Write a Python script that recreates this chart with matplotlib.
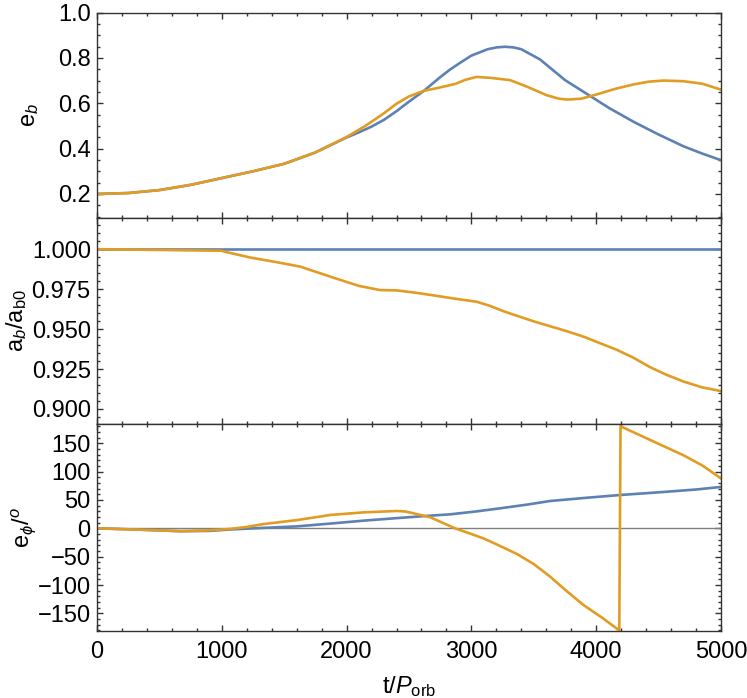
import matplotlib
matplotlib.use("Agg")
import matplotlib.pyplot as plt
from matplotlib.ticker import MultipleLocator

plt.rcParams['font.family'] = ['Liberation Sans', 'DejaVu Sans']
plt.rcParams['mathtext.fontset'] = 'custom'
plt.rcParams['mathtext.rm'] = 'Liberation Sans'
plt.rcParams['mathtext.it'] = 'Liberation Sans:italic'
plt.rcParams['mathtext.bf'] = 'Liberation Sans:bold'

BLUE = '#5e81b5'
ORANGE = '#e19c24'

# eccentricity e_b
t_eb_blue = [0, 250, 500, 750, 1000, 1250, 1500, 1750, 2000, 2100, 2200, 2300, 2400, 2500,
             2620, 2750, 2830, 2920, 3000, 3130, 3200, 3270, 3340, 3400, 3550, 3750, 3960,
             4100, 4300, 4500, 4700, 4850, 5000]
eb_blue = [0.200, 0.204, 0.217, 0.240, 0.270, 0.300, 0.333, 0.383, 0.449, 0.472, 0.497,
           0.527, 0.565, 0.607, 0.655, 0.715, 0.749, 0.782, 0.810, 0.838, 0.846, 0.849,
           0.846, 0.838, 0.793, 0.702, 0.629, 0.580, 0.518, 0.462, 0.410, 0.378, 0.349]
t_eb_orange = [0, 250, 500, 750, 1000, 1250, 1500, 1750, 2000, 2150, 2300, 2400, 2500,
               2620, 2720, 2870, 2950, 3040, 3150, 3310, 3450, 3600, 3700, 3770, 3880,
               4000, 4150, 4300, 4420, 4540, 4700, 4850, 5000]
eb_orange = [0.200, 0.204, 0.217, 0.240, 0.270, 0.300, 0.333, 0.383, 0.451, 0.500, 0.556,
             0.598, 0.630, 0.655, 0.666, 0.685, 0.703, 0.716, 0.712, 0.702, 0.672, 0.636,
             0.620, 0.616, 0.620, 0.638, 0.663, 0.683, 0.695, 0.700, 0.697, 0.686, 0.660]

# semi-major axis a_b / a_b0
t_ab_blue = [0, 5000]
ab_blue = [1.0, 1.0]
t_ab_orange = [0, 500, 1000, 1030, 1226, 1430, 1627, 1893, 2100, 2268, 2400, 2550, 2695,
               2870, 3042, 3150, 3256, 3496, 3763, 3900, 4163, 4300, 4431, 4560, 4698,
               4850, 5000]
ab_orange = [1.0, 0.9995, 0.9990, 0.9983, 0.9948, 0.9920, 0.9891, 0.9822, 0.9770, 0.9744,
             0.9742, 0.9728, 0.9711, 0.9690, 0.9671, 0.9645, 0.9612, 0.9549, 0.9487,
             0.9452, 0.9371, 0.9320, 0.9262, 0.9215, 0.9172, 0.9135, 0.9112]

# e_phi in degrees
t_ph_blue = [0, 300, 668, 900, 1068, 1300, 1603, 1900, 2137, 2400, 2671, 2829, 3045, 3229,
             3450, 3630, 3900, 4191, 4500, 4800, 5000]
ph_blue = [0, -2, -5, -4.5, -2, 0.5, 3.5, 9, 13.6, 18, 22.4, 24.7, 30, 35.3, 42, 48.2,
           53.5, 58.8, 63.5, 68.5, 73]
t_ph_orange = [0, 300, 668, 900, 1068, 1200, 1336, 1603, 1870, 2137, 2404, 2470, 2537,
               2671, 2870, 3000, 3100, 3200, 3363, 3500, 3630, 3760, 3897, 4050, 4185,
               4195, 4431, 4698, 4850, 5000]
ph_orange = [0, -2, -5, -3.5, -1, 2.5, 7.6, 14.6, 23.6, 28.2, 30.6, 29.8, 26.5, 19.4, 0,
             -10, -18, -28, -45, -63, -85, -110, -135, -158, -180, 180, 156, 129, 111, 88]

fig = plt.figure(figsize=(7.47, 6.98), dpi=100)
left, width = 97 / 747, 624 / 747
ax1 = fig.add_axes([left, 1 - 218 / 698, width, 205.5 / 698])
ax2 = fig.add_axes([left, 1 - 424 / 698, width, 206 / 698])
ax3 = fig.add_axes([left, 1 - 631 / 698, width, 207 / 698])

lw = 1.9
ax1.plot(t_eb_blue, eb_blue, color=BLUE, lw=lw)
ax1.plot(t_eb_orange, eb_orange, color=ORANGE, lw=lw)
ax2.plot(t_ab_blue, ab_blue, color=BLUE, lw=lw)
ax2.plot(t_ab_orange, ab_orange, color=ORANGE, lw=lw)
ax3.axhline(0, color='#808080', lw=1.0)
ax3.plot(t_ph_blue, ph_blue, color=BLUE, lw=lw)
ax3.plot(t_ph_orange, ph_orange, color=ORANGE, lw=lw)

ax1.set_ylim(0.094, 1.0)
ax1.yaxis.set_minor_locator(MultipleLocator(0.05))
ax1.set_yticks([0.2, 0.4, 0.6, 0.8, 1.0])
ax1.set_yticklabels(['0.2', '0.4', '0.6', '0.8', '1.0'])

ax2.set_ylim(0.8906, 1.0195)
ax2.set_yticks([0.9, 0.925, 0.95, 0.975, 1.0])
ax2.set_yticklabels(['0.900', '0.925', '0.950', '0.975', '1.000'])
ax2.yaxis.set_minor_locator(MultipleLocator(0.005))

ax3.set_ylim(-181, 184)
ax3.set_yticks([-150, -100, -50, 0, 50, 100, 150])
ax3.yaxis.set_minor_locator(MultipleLocator(10))

fs = 17
for ax in (ax1, ax2, ax3):
    ax.set_xlim(0, 5000)
    ax.xaxis.set_major_locator(MultipleLocator(1000))
    ax.xaxis.set_minor_locator(MultipleLocator(200))
    ax.tick_params(which='both', direction='in', top=True, right=True,
                   width=1.0, labelsize=fs, pad=4.5, color='#333333')
    ax.tick_params(which='major', length=4.5)
    ax.tick_params(which='minor', length=2.5)
    for s in ax.spines.values():
        s.set_linewidth(1.0)
        s.set_color('#333333')
    if ax is not ax3:
        ax.tick_params(labelbottom=False)

ax3.tick_params(axis='x', pad=7)

ax1.set_ylabel(r'$\mathrm{e}_b$', fontsize=fs, labelpad=12)
ax2.set_ylabel(r'$\mathrm{a}_b/\mathrm{a}_{\mathrm{b0}}$', fontsize=fs, labelpad=2)
ax3.set_ylabel(r'$\mathrm{e}_\phi/^o$', fontsize=fs, labelpad=0)
ax3.set_xlabel(r'$\mathrm{t}/P_{\mathrm{orb}}$', fontsize=fs, labelpad=8)

fig.savefig('out.png', dpi=100)
